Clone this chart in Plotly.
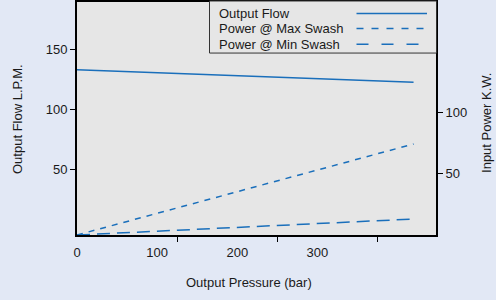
import plotly.graph_objects as go

# ---- data ----
pressure = [0, 420]
output_flow = [133, 122.5]
power_max_swash = [0, 74]
power_min_swash = [0, 13]

x_tick_vals = [0, 100, 200, 300]
x_minor_ticks = [125, 250, 375]
y_left_ticks = [50, 100, 150]
y_right_ticks = [50, 100]
series_names = ["Output Flow", "Power @ Max Swash", "Power @ Min Swash"]

# ---- style ----
W, H = 496, 300
L, R, T, B = 77, 60, 0, 65
BLUE = "#1a6fbb"
FONT = "Liberation Sans, Arial, sans-serif"
TXT = "#1a1a1a"
FS = 13

def px_x(x):
    return (x - L) / (W - L - R)

def px_y(y):
    return 1 - (y - T) / (H - T - B)

fig = go.Figure()
fig.add_trace(go.Scatter(x=pressure, y=output_flow, mode="lines", name=series_names[0],
                         line=dict(color=BLUE, width=1.5), yaxis="y"))
fig.add_trace(go.Scatter(x=pressure, y=power_max_swash, mode="lines", name=series_names[1],
                         line=dict(color=BLUE, width=1.5, dash="6px,6px"), yaxis="y2"))
fig.add_trace(go.Scatter(x=pressure, y=power_min_swash, mode="lines", name=series_names[2],
                         line=dict(color=BLUE, width=1.5, dash="13px,7px"), yaxis="y2"))

# custom legend (box + text + samples)
shapes = [dict(type="rect", xref="paper", yref="paper",
               x0=px_x(209.5), x1=px_x(436.5), y0=px_y(51.5), y1=px_y(-1),
               line=dict(color="#333333", width=1), fillcolor="#e6e6e6", layer="above")]
annotations = []
rows = [11.5, 26.7, 42.5]
dashes = ["solid", "7px,8px", "12px,13px"]
for name, ry, d in zip(series_names, rows, dashes):
    shapes.append(dict(type="line", xref="paper", yref="paper",
                       x0=px_x(356.5), x1=px_x(427), y0=px_y(ry), y1=px_y(ry),
                       line=dict(color=BLUE, width=1.5, dash=d), layer="above"))
    annotations.append(dict(text=name, xref="paper", yref="paper", x=px_x(217), y=px_y(ry),
                            xanchor="left", yanchor="middle", showarrow=False,
                            font=dict(size=FS, color=TXT, family=FONT)))

# axis titles
annotations.append(dict(text="Output Pressure (bar)", xref="paper", yref="paper",
                        x=px_x(249), y=px_y(283), xanchor="center", yanchor="middle",
                        showarrow=False, font=dict(size=FS, color=TXT, family=FONT)))
annotations.append(dict(text="Output Flow L.P.M.", xref="paper", yref="paper",
                        x=px_x(18), y=px_y(118), xanchor="center", yanchor="middle",
                        textangle=-90, showarrow=False, font=dict(size=FS, color=TXT, family=FONT)))
annotations.append(dict(text="Input Power K.W.", xref="paper", yref="paper",
                        x=px_x(487), y=px_y(122), xanchor="center", yanchor="middle",
                        textangle=-90, showarrow=False, font=dict(size=FS, color=TXT, family=FONT)))

axis_common = dict(showgrid=False, zeroline=False, showline=True, linecolor="black",
                   linewidth=2, tickfont=dict(size=FS, color=TXT, family=FONT))

fig.update_layout(
    width=W, height=H,
    margin=dict(l=L, r=R, t=T, b=B),
    paper_bgcolor="#e2e8f5",
    plot_bgcolor="#e6e6e6",
    showlegend=False,
    xaxis=dict(range=[0, 448], tickmode="array", tickvals=x_tick_vals,
               ticks="outside", ticklen=4, tickcolor="rgba(0,0,0,0)", mirror=True,
               minor=dict(tickmode="array", tickvals=x_minor_ticks, ticks="outside",
                          ticklen=5, tickcolor="black", tickwidth=1),
               **axis_common),
    yaxis=dict(range=[-4.4, 189.3], tickmode="array", tickvals=y_left_ticks,
               ticks="outside", ticklen=5, tickcolor="black", mirror=True, **axis_common),
    yaxis2=dict(range=[0, 189.5], tickmode="array", tickvals=y_right_ticks, overlaying="y",
                side="right", ticks="outside", ticklen=5, tickcolor="black", **axis_common),
    shapes=shapes,
    annotations=annotations,
)

fig.write_html("out.html", config={"displayModeBar": False, "staticPlot": True},
               post_script="document.body.style.margin='0';document.body.style.overflow='hidden';")
